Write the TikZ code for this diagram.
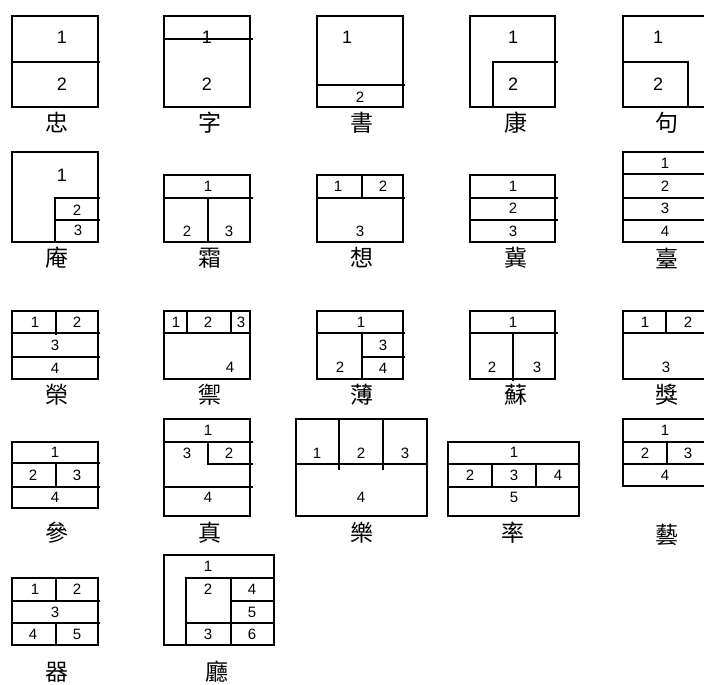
\documentclass[tikz,border=0pt]{standalone}
\usepackage{fontspec}
\setmainfont{Liberation Sans}
\newfontfamily\cjk{Noto Sans CJK TC}
\usepackage{tikz}
\usetikzlibrary{positioning}

\begin{document}
\begin{tikzpicture}[x=0.5pt,y=-0.5pt,line width=1pt,
  num/.style={inner sep=0pt, font=\fontsize{7.5}{7.5}\selectfont},
  bignum/.style={inner sep=0pt, font=\fontsize{9}{9}\selectfont},
  zi/.style={inner sep=0pt, font=\cjk\fontsize{11.5}{11.5}\selectfont}]
\useasboundingbox (0,0) rectangle (704,684);
\clip (0,0) rectangle (704,684);

\draw (12,16) rectangle (98,107);
\draw (12,62) -- (100,62);
\node [bignum] (zhong1) at (62,37) {1};
\node [bignum] (zhong2) at (62,84) {2};
\node [zi] (zhong) at (57,123) {忠};

\draw (164,16) rectangle (250,107);
\draw (164,39) -- (253,39);
\node [bignum] (zi1) at (207,37) {1};
\node [bignum] (zi2) at (207,84) {2};
\node [zi] (zi) at (210,123) {字};

\draw (317,16) rectangle (403,107);
\draw (317,85) -- (405,85);
\node [bignum] (shu1) at (347,37) {1};
\node [num] (shu2) at (360,97) {2};
\node [zi] (shu) at (362,123) {書};

\draw (470,16) rectangle (555,107);
\draw (493,107) -- (493,62) -- (558,62);
\node [bignum] (kang1) at (513,37) {1};
\node [bignum] (kang2) at (513,84) {2};
\node [zi] (kang) at (516,123) {康};

\draw (623,16) rectangle (709,107);
\draw (623,62) -- (688,62) -- (688,107);
\node [bignum] (ju1) at (658,37) {1};
\node [bignum] (ju2) at (658,84) {2};
\node [zi] (ju) at (667,123) {句};

\draw (12,152) rectangle (98,242);
\draw (55,242) -- (55,198) -- (100,198);
\draw (55,220) -- (100,220);
\node [bignum] (an1) at (62,175) {1};
\node [num] (an2) at (77,210) {2};
\node [num] (an3) at (78,230) {3};
\node [zi] (an) at (57,258) {庵};

\draw (164,175) rectangle (250,242);
\draw (164,198) -- (253,198);
\draw (208,198) -- (208,242);
\node [num] (shuang1) at (208,186) {1};
\node [num] (shuang2) at (187,231) {2};
\node [num] (shuang3) at (229,231) {3};
\node [zi] (shuang) at (210,258) {霜};

\draw (317,175) rectangle (403,242);
\draw (317,198) -- (405,198);
\draw (362,175) -- (362,198);
\node [num] (xiang1) at (338,186) {1};
\node [num] (xiang2) at (383,186) {2};
\node [num] (xiang3) at (360,231) {3};
\node [zi] (xiang) at (362,258) {想};

\draw (470,175) rectangle (555,242);
\draw (470,198) -- (558,198);
\draw (470,220) -- (558,220);
\node [num] (ji1) at (513,186) {1};
\node [num] (ji2) at (513,208) {2};
\node [num] (ji3) at (513,231) {3};
\node [zi] (ji) at (516,258) {冀};

\draw (623,152) rectangle (709,242);
\draw (623,174) -- (709,174);
\draw (623,198) -- (709,198);
\draw (623,220) -- (709,220);
\node [num] (tai1) at (665,163) {1};
\node [num] (tai2) at (665,186) {2};
\node [num] (tai3) at (665,208) {3};
\node [num] (tai4) at (665,231) {4};
\node [zi] (tai) at (667,258) {臺};

\draw (12,311) rectangle (98,379);
\draw (12,333) -- (100,333);
\draw (12,357) -- (100,357);
\draw (56,311) -- (56,335);
\node [num] (rong1) at (35,322) {1};
\node [num] (rong2) at (77,322) {2};
\node [num] (rong3) at (55,345) {3};
\node [num] (rong4) at (55,368) {4};
\node [zi] (rong) at (57,395) {榮};

\draw (164,311) rectangle (250,379);
\draw (164,333) -- (250,333);
\draw (187,311) -- (187,333);
\draw (231,311) -- (231,333);
\node [num] (yu1) at (176,322) {1};
\node [num] (yu2) at (208,322) {2};
\node [num] (yu3) at (241,322) {3};
\node [num] (yu4) at (230,367) {4};
\node [zi] (yu) at (210,395) {禦};

\draw (317,311) rectangle (403,379);
\draw (317,333) -- (405,333);
\draw (362,333) -- (362,379);
\draw (362,357) -- (405,357);
\node [num] (bo1) at (361,322) {1};
\node [num] (bo2) at (340,367) {2};
\node [num] (bo3) at (383,345) {3};
\node [num] (bo4) at (383,368) {4};
\node [zi] (bo) at (362,395) {薄};

\draw (470,311) rectangle (555,379);
\draw (470,333) -- (558,333);
\draw (513,333) -- (513,381);
\node [num] (su1) at (513,322) {1};
\node [num] (su2) at (492,367) {2};
\node [num] (su3) at (537,367) {3};
\node [zi] (su) at (516,395) {蘇};

\draw (623,311) rectangle (709,379);
\draw (623,333) -- (709,333);
\draw (666,311) -- (666,333);
\node [num] (jiang1) at (645,322) {1};
\node [num] (jiang2) at (688,322) {2};
\node [num] (jiang3) at (666,367) {3};
\node [zi] (jiang) at (667,395) {獎};

\draw (12,442) rectangle (98,508);
\draw (12,463) -- (100,463);
\draw (12,487) -- (100,487);
\draw (56,463) -- (56,487);
\node [num] (can1) at (55,452) {1};
\node [num] (can2) at (33,475) {2};
\node [num] (can3) at (77,475) {3};
\node [num] (can4) at (55,497) {4};
\node [zi] (can) at (57,533) {參};

\draw (164,419) rectangle (250,516);
\draw (164,442) -- (253,442);
\draw (164,487) -- (253,487);
\draw (208,442) -- (208,464) -- (253,464);
\node [num] (zhen1) at (208,430) {1};
\node [num] (zhen3) at (187,453) {3};
\node [num] (zhen2) at (229,453) {2};
\node [num] (zhen4) at (208,497) {4};
\node [zi] (zhen) at (210,533) {真};

\draw (296,419) rectangle (427,516);
\draw (296,464) -- (427,464);
\draw (339,419) -- (339,470);
\draw (383,419) -- (383,470);
\node [num] (yue1) at (317,453) {1};
\node [num] (yue2) at (361,453) {2};
\node [num] (yue3) at (405,453) {3};
\node [num] (yue4) at (361,497) {4};
\node [zi] (yue) at (362,533) {樂};

\draw (448,442) rectangle (579,516);
\draw (448,464) -- (579,464);
\draw (448,487) -- (579,487);
\draw (492,464) -- (492,487);
\draw (536,464) -- (536,487);
\node [num] (lv1) at (514,452) {1};
\node [num] (lv2) at (470,475) {2};
\node [num] (lv3) at (514,475) {3};
\node [num] (lv4) at (558,475) {4};
\node [num] (lv5) at (514,497) {5};
\node [zi] (lv) at (513,533) {率};

\draw (623,419) rectangle (709,486);
\draw (623,442) -- (709,442);
\draw (623,464) -- (709,464);
\draw (667,442) -- (667,464);
\node [num] (yi1) at (665,430) {1};
\node [num] (yi2) at (645,453) {2};
\node [num] (yi3) at (688,453) {3};
\node [num] (yi4) at (665,475) {4};
\node [zi] (yi) at (667,535) {藝};

\draw (12,578) rectangle (98,645);
\draw (12,601) -- (100,601);
\draw (12,623) -- (100,623);
\draw (56,578) -- (56,601);
\draw (56,623) -- (56,645);
\node [num] (qi1) at (35,589) {1};
\node [num] (qi2) at (77,589) {2};
\node [num] (qi3) at (55,612) {3};
\node [num] (qi4) at (33,634) {4};
\node [num] (qi5) at (77,634) {5};
\node [zi] (qi) at (57,672) {器};

\draw (164,555) rectangle (274,645);
\draw (186,645) -- (186,578) -- (274,578);
\draw (231,578) -- (231,645);
\draw (231,601) -- (274,601);
\draw (186,623) -- (274,623);
\node [num] (ting1) at (208,566) {1};
\node [num] (ting2) at (208,589) {2};
\node [num] (ting4) at (252,589) {4};
\node [num] (ting5) at (252,612) {5};
\node [num] (ting3) at (208,634) {3};
\node [num] (ting6) at (252,634) {6};
\node [zi] (ting) at (217,672) {廳};

\end{tikzpicture}
\end{document}
